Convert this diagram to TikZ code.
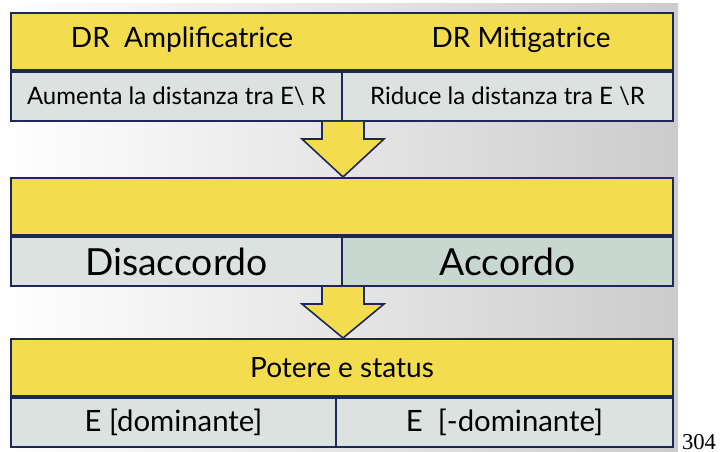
\documentclass[tikz,border=0pt]{standalone}
\usepackage{fontspec}
\setmainfont{Lato}
\newfontfamily\numfont{Liberation Serif}
\usetikzlibrary{positioning,calc}
\definecolor{boxyellow}{HTML}{F3DC4E}
\definecolor{boxgray}{HTML}{DCE2DF}
\definecolor{boxgreen}{HTML}{C9D7D1}
\definecolor{boxline}{HTML}{1E2858}
% sizes in pt (1px = 0.75pt)
\tikzset{
	topbox/.style={draw=boxline, line width=1.5pt, fill=boxyellow, minimum width=496.5pt, minimum height=42.75pt, inner sep=0pt},
	cell/.style={draw=boxline, line width=1.5pt, fill=boxgray, minimum height=36.75pt, inner sep=0pt},
	downarrow/.style={fill=boxyellow},
	arrowline/.style={draw=boxline, line width=1.2pt, line join=miter},
	small/.style={font=\fontsize{21}{24}\selectfont},
	big/.style={font=\fontsize{28}{31}\selectfont},
}
\begin{document}
\begin{tikzpicture}[x=0.75pt,y=-0.75pt]
	\useasboundingbox (0,0) rectangle (720,452);
	% background panel
	\shade[left color=white, right color=black!20] (0,4) rectangle (678,452);

	% first block
	\node[topbox, anchor=north west] (t1) at (10,12) {};
	\node[cell, anchor=north west, minimum width=248.25pt] (l1) at (t1.south west) {};
	\node[cell, anchor=north east, minimum width=248.25pt] (r1) at (t1.south east) {};
	\node[small] at (182,40) {DR\ \ Amplificatrice};
	\node[small] at (521,40) {DR Mitigatrice};
	\node[font=\fontsize{18}{21}\selectfont] at (l1.center) {Aumenta la distanza tra E\textbackslash\ R};
	\node[font=\fontsize{18}{21}\selectfont] at (r1.center) {Riduce la distanza tra E \textbackslash R};

	% second block
	\node[topbox, anchor=north west] (t2) at (10,177) {};
	\node[cell, anchor=north west, minimum width=248.25pt] (l2) at (t2.south west) {};
	\node[cell, anchor=north east, minimum width=248.25pt, fill=boxgreen] (r2) at (t2.south east) {};
	\node[big] at (l2.center) {Disaccordo};
	\node[big] at (r2.center) {Accordo};

	% third block
	\node[topbox, anchor=north west] (t3) at (10,338) {};
	\node[cell, anchor=north west, minimum width=243.75pt] (l3) at (t3.south west) {};
	\node[cell, anchor=north east, minimum width=252.75pt] (r3) at (t3.south east) {};
	\node[small] at (t3.center) {Potere e status};
	\node[font=\fontsize{22}{25}\selectfont] at (l3.center) {E [dominante]};
	\node[font=\fontsize{22}{25}\selectfont] at (r3.center) {E\ \ [-dominante]};

	% arrows between blocks
	\foreach \a/\b in {l1/t2, l2/t3} {
		\coordinate (top) at (\a.south east);
		\fill[downarrow] ($(top)+(-21,0)$) -- ($(top)+(-21,17)$) -- ($(top)+(-41,17)$) -- (\b.north -| top) -- ($(top)+(41,17)$) -- ($(top)+(21,17)$) -- ($(top)+(21,0)$) -- cycle;
		\draw[arrowline] ($(top)+(-21,0)$) -- ($(top)+(-21,17)$) -- ($(top)+(-41,17)$) -- (\b.north -| top) -- ($(top)+(41,17)$) -- ($(top)+(21,17)$) -- ($(top)+(21,0)$);
	}

	\node[font=\numfont\fontsize{17}{20}\selectfont, anchor=base] (num) at (699,449) {304};
\end{tikzpicture}
\end{document}
